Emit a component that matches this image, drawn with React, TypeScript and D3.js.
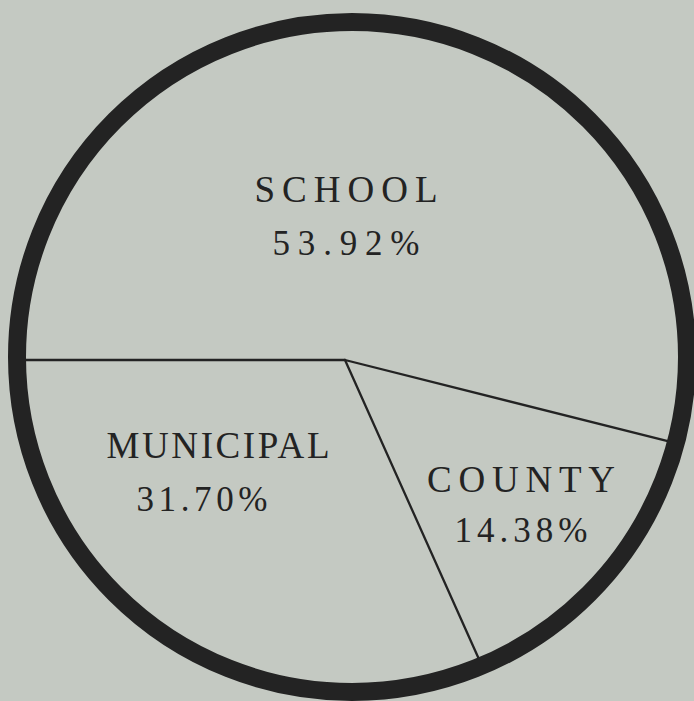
import * as d3 from "d3";

// slice order follows the drawing: clockwise from the left horizontal edge
const categories = ["SCHOOL", "COUNTY", "MUNICIPAL"];
const shares = [53.92, 14.38, 31.7];
const shareLabels = ["53.92%", "14.38%", "31.70%"];

const width = 694;
const height = 701;
const bg = "#c4c9c2";
const ink = "#232323";

// the ring is slightly off the point where the dividers meet (scanned original)
const ring = { cx: 352, cy: 357, r: 335, stroke: 18 };
const hub = { x: 345, y: 360 };

// label placement relative to the hub: [dx name, dy name, dx value, dy value, name length, value length]
const labelLayout = [
  [1, -158, 1, -105, 183, 147],
  [176, 132, 176, 182, 188, 133],
  [-127, 98, -143, 151, 223, 131],
];

// distance along a ray from the hub to the ring
const rayToRing = (a: number) => {
  const dx = Math.sin(a);
  const dy = -Math.cos(a);
  const ox = hub.x - ring.cx;
  const oy = hub.y - ring.cy;
  const b = ox * dx + oy * dy;
  const c = ox * ox + oy * oy - ring.r * ring.r;
  return -b + Math.sqrt(b * b - c);
};

export default function App() {
  const pie = d3
    .pie<number>()
    .sort(null)
    .startAngle(-Math.PI / 2)
    .endAngle(1.5 * Math.PI);
  const arcs = pie(shares);

  return (
    <svg
      width={width}
      height={height}
      style={{ position: "absolute", left: 0, top: 0, background: bg }}
    >
      <rect width={width} height={height} fill={bg} />
      {/* dividers */}
      <g stroke={ink} strokeWidth={2.3} strokeLinecap="round">
        {arcs.map((a, i) => {
          const t = rayToRing(a.startAngle);
          return (
            <line
              key={i}
              x1={hub.x}
              y1={hub.y}
              x2={hub.x + t * Math.sin(a.startAngle)}
              y2={hub.y - t * Math.cos(a.startAngle)}
            />
          );
        })}
      </g>
      {/* outer ring */}
      <circle
        cx={ring.cx}
        cy={ring.cy}
        r={ring.r}
        fill="none"
        stroke={ink}
        strokeWidth={ring.stroke}
      />
      {/* labels */}
      <g
        fill={ink}
        fontFamily="'Liberation Serif', 'DejaVu Serif', serif"
        fontSize={37}
        textAnchor="middle"
      >
        {categories.map((c, i) => {
          const [nx, ny, vx, vy, nl, vl] = labelLayout[i];
          return (
            <g key={c}>
              <text
                x={hub.x + nx}
                y={hub.y + ny}
                textLength={nl}
                lengthAdjust="spacing"
              >
                {c}
              </text>
              <text
                x={hub.x + vx}
                y={hub.y + vy}
                fontSize={35}
                textLength={vl}
                lengthAdjust="spacing"
              >
                {shareLabels[i]}
              </text>
            </g>
          );
        })}
      </g>
    </svg>
  );
}
